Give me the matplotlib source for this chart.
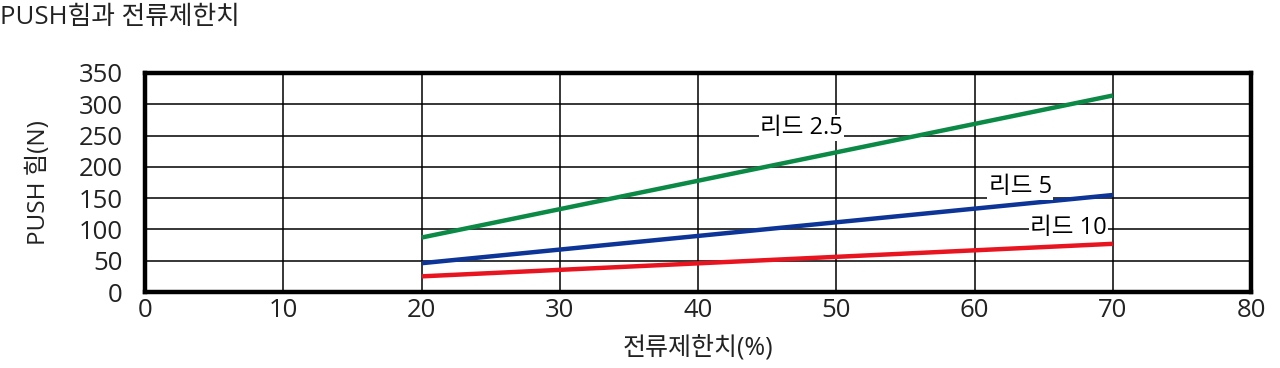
import matplotlib
matplotlib.use("Agg")
import matplotlib.pyplot as plt

plt.rcParams["font.family"] = ["Open Sans", "Noto Sans CJK KR", "DejaVu Sans"]

# current limit (%) vs PUSH force (N)
current_limit = [20, 70]
lead_names = ["리드 2.5", "리드 5", "리드 10"]
push_force = {
    "리드 2.5": [87, 314],
    "리드 5": [46, 155],
    "리드 10": [25, 77],
}
line_colors = {"리드 2.5": "#0b8a46", "리드 5": "#0c3597", "리드 10": "#e8141f"}
label_pos = {"리드 2.5": (47.5, 262), "리드 5": (63.3, 168), "리드 10": (66.8, 103)}

x_ticks = list(range(0, 81, 10))
y_ticks = list(range(0, 351, 50))

text_color = "#222222"

fig = plt.figure(figsize=(12.8, 3.68), dpi=100)
ax = fig.add_axes([145 / 1280, 1 - 292 / 368, (1251 - 145) / 1280, (292 - 73) / 368])

for name in lead_names:
    ax.plot(current_limit, push_force[name], color=line_colors[name], lw=3.2,
            solid_capstyle="butt", zorder=3)
    lx, ly = label_pos[name]
    ax.text(lx, ly, name, fontsize=17, color="black", ha="center", va="center",
            bbox=dict(boxstyle="square,pad=0.05", fc="white", ec="none"), zorder=4)

ax.set_xlim(0, 80)
ax.set_ylim(0, 350)
ax.set_xticks(x_ticks)
ax.set_yticks(y_ticks)
ax.grid(True, color="black", lw=1.1)
ax.set_axisbelow(True)
for sp in ax.spines.values():
    sp.set_linewidth(3.2)
    sp.set_color("black")
ax.tick_params(length=0, labelsize=18.5, labelcolor=text_color)
ax.tick_params(axis="y", pad=16)
ax.tick_params(axis="x", pad=4)

ax.set_xlabel("전류제한치(%)", fontsize=18, color=text_color, labelpad=10)
ax.set_ylabel("PUSH 힘(N)", fontsize=17.5, color=text_color, labelpad=20)

fig.text(0.0, 1 - 17 / 368, "PUSH힘과 전류제한치", fontsize=18.5, color=text_color,
         ha="left", va="center")

fig.savefig("out.png", dpi=100)
